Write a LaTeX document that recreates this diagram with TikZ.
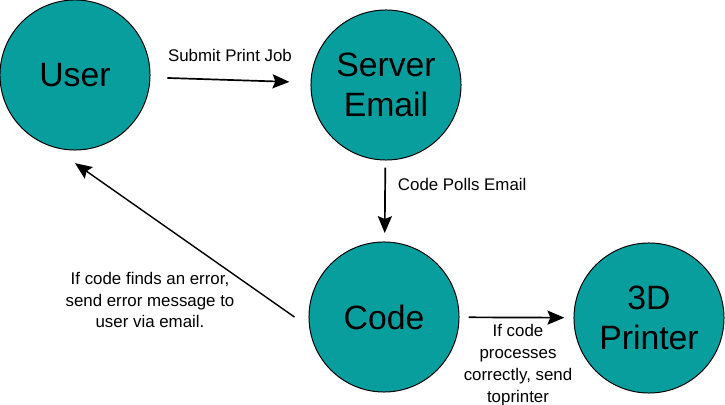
\documentclass[tikz,border=0pt]{standalone}
\usepackage{fontspec}
\setmainfont{Liberation Sans}
\usetikzlibrary{arrows.meta}

\definecolor{tealfill}{RGB}{8,158,158}

\begin{document}
\begin{tikzpicture}[x=0.025cm, y=-0.025cm,
  stage/.style={circle, draw=black, line width=0.7pt, fill=tealfill,
    minimum size=3.75cm, inner sep=0pt, align=center,
    font=\fontsize{24}{28.5}\selectfont},
  flow/.style={line width=1.2pt, -{Stealth[length=12pt, width=10pt, inset=2pt]}},
  note/.style={align=center, font=\fontsize{12}{15.5}\selectfont}]

\useasboundingbox (0,0) rectangle (725,405);

% the four stages
\node[stage] (user) at (75,75) {User};
\node[stage] (server) at (386,85) {Server\\Email};
\node[stage] (code) at (384,317) {Code};
\node[stage] (printer) at (649,318) {3D\\Printer};

% the connectors
\draw[flow, shorten <=12pt, shorten >=15pt] (user) -- (server);
\draw[flow, shorten <=5pt, shorten >=6pt] (server) -- (code);
\draw[flow, line width=1pt] ([xshift=-10pt]code.west) -- ([yshift=-9pt]user.south);
\draw[flow, shorten <=6.5pt, shorten >=6.5pt] (code) -- (printer);

% their labels
\node[note] (submit) at (230,55) {Submit Print Job};
\node[note, anchor=west] (polls) at (393,184) {Code Polls Email};
\node[note] (error) at (150,300) {If code finds an error,\\send error message to\\user via email.};
\node[note] (send) at (518,365) {If code\\processes\\correctly, send\\toprinter};

\end{tikzpicture}
\end{document}
